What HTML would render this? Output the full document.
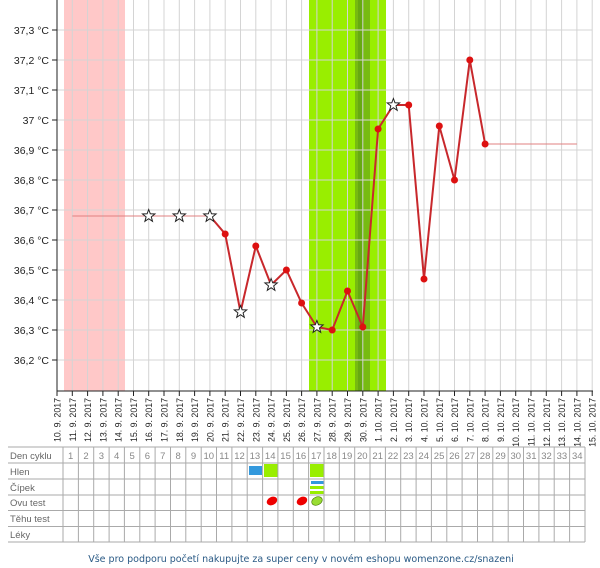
<!DOCTYPE html>
<html><head><meta charset="utf-8"><style>
html,body{margin:0;padding:0;background:#fff;}
svg{display:block;font-family:"Liberation Sans",Arial,sans-serif;}
</style></head><body>
<svg width="600" height="568" viewBox="0 0 600 568" xmlns="http://www.w3.org/2000/svg">
<defs>
<polygon id="st" points="0,-6.5 1.6,-2.2 6.2,-2 2.6,0.9 3.8,5.3 0,2.7 -3.8,5.3 -2.6,0.9 -6.2,-2 -1.6,-2.2" fill="#fff" stroke="#222" stroke-width="1"/>
</defs>
<rect x="64" y="0" width="61" height="391" fill="#ffc8c8"/>
<rect x="309" y="0" width="77" height="391" fill="#99ee00"/>
<rect x="355" y="0" width="15" height="391" fill="#77bb11"/>
<rect x="358" y="0" width="5" height="391" fill="#66aa11"/>
<g stroke="#d4d4d4" stroke-width="1">
<line x1="72.3" y1="0" x2="72.3" y2="391"/><line x1="87.6" y1="0" x2="87.6" y2="391"/><line x1="102.9" y1="0" x2="102.9" y2="391"/><line x1="118.2" y1="0" x2="118.2" y2="391"/><line x1="133.5" y1="0" x2="133.5" y2="391"/><line x1="148.7" y1="0" x2="148.7" y2="391"/><line x1="164" y1="0" x2="164" y2="391"/><line x1="179.3" y1="0" x2="179.3" y2="391"/><line x1="194.6" y1="0" x2="194.6" y2="391"/><line x1="209.9" y1="0" x2="209.9" y2="391"/><line x1="225.2" y1="0" x2="225.2" y2="391"/><line x1="240.5" y1="0" x2="240.5" y2="391"/><line x1="255.8" y1="0" x2="255.8" y2="391"/><line x1="271.1" y1="0" x2="271.1" y2="391"/><line x1="286.4" y1="0" x2="286.4" y2="391"/><line x1="301.6" y1="0" x2="301.6" y2="391"/><line x1="316.9" y1="0" x2="316.9" y2="391"/><line x1="332.2" y1="0" x2="332.2" y2="391"/><line x1="347.5" y1="0" x2="347.5" y2="391"/><line x1="362.8" y1="0" x2="362.8" y2="391"/><line x1="378.1" y1="0" x2="378.1" y2="391"/><line x1="393.4" y1="0" x2="393.4" y2="391"/><line x1="408.7" y1="0" x2="408.7" y2="391"/><line x1="424" y1="0" x2="424" y2="391"/><line x1="439.3" y1="0" x2="439.3" y2="391"/><line x1="454.5" y1="0" x2="454.5" y2="391"/><line x1="469.8" y1="0" x2="469.8" y2="391"/><line x1="485.1" y1="0" x2="485.1" y2="391"/><line x1="500.4" y1="0" x2="500.4" y2="391"/><line x1="515.7" y1="0" x2="515.7" y2="391"/><line x1="531" y1="0" x2="531" y2="391"/><line x1="546.3" y1="0" x2="546.3" y2="391"/><line x1="561.6" y1="0" x2="561.6" y2="391"/><line x1="576.9" y1="0" x2="576.9" y2="391"/><line x1="592.2" y1="0" x2="592.2" y2="391"/>
<line x1="57" y1="30" x2="592" y2="30"/><line x1="57" y1="60" x2="592" y2="60"/><line x1="57" y1="90" x2="592" y2="90"/><line x1="57" y1="120" x2="592" y2="120"/><line x1="57" y1="150" x2="592" y2="150"/><line x1="57" y1="180" x2="592" y2="180"/><line x1="57" y1="210" x2="592" y2="210"/><line x1="57" y1="240" x2="592" y2="240"/><line x1="57" y1="270" x2="592" y2="270"/><line x1="57" y1="300" x2="592" y2="300"/><line x1="57" y1="330" x2="592" y2="330"/><line x1="57" y1="360" x2="592" y2="360"/>
</g>
<g stroke="#222" stroke-width="1">
<line x1="57" y1="0" x2="57" y2="391"/><line x1="57" y1="391" x2="593" y2="391"/>
<line x1="52" y1="30" x2="57" y2="30"/><line x1="52" y1="60" x2="57" y2="60"/><line x1="52" y1="90" x2="57" y2="90"/><line x1="52" y1="120" x2="57" y2="120"/><line x1="52" y1="150" x2="57" y2="150"/><line x1="52" y1="180" x2="57" y2="180"/><line x1="52" y1="210" x2="57" y2="210"/><line x1="52" y1="240" x2="57" y2="240"/><line x1="52" y1="270" x2="57" y2="270"/><line x1="52" y1="300" x2="57" y2="300"/><line x1="52" y1="330" x2="57" y2="330"/><line x1="52" y1="360" x2="57" y2="360"/>
</g>
<g stroke="#222" stroke-width="1">
<line x1="57" y1="391" x2="57" y2="396"/><line x1="72.3" y1="391" x2="72.3" y2="396"/><line x1="87.6" y1="391" x2="87.6" y2="396"/><line x1="102.9" y1="391" x2="102.9" y2="396"/><line x1="118.2" y1="391" x2="118.2" y2="396"/><line x1="133.5" y1="391" x2="133.5" y2="396"/><line x1="148.7" y1="391" x2="148.7" y2="396"/><line x1="164" y1="391" x2="164" y2="396"/><line x1="179.3" y1="391" x2="179.3" y2="396"/><line x1="194.6" y1="391" x2="194.6" y2="396"/><line x1="209.9" y1="391" x2="209.9" y2="396"/><line x1="225.2" y1="391" x2="225.2" y2="396"/><line x1="240.5" y1="391" x2="240.5" y2="396"/><line x1="255.8" y1="391" x2="255.8" y2="396"/><line x1="271.1" y1="391" x2="271.1" y2="396"/><line x1="286.4" y1="391" x2="286.4" y2="396"/><line x1="301.6" y1="391" x2="301.6" y2="396"/><line x1="316.9" y1="391" x2="316.9" y2="396"/><line x1="332.2" y1="391" x2="332.2" y2="396"/><line x1="347.5" y1="391" x2="347.5" y2="396"/><line x1="362.8" y1="391" x2="362.8" y2="396"/><line x1="378.1" y1="391" x2="378.1" y2="396"/><line x1="393.4" y1="391" x2="393.4" y2="396"/><line x1="408.7" y1="391" x2="408.7" y2="396"/><line x1="424" y1="391" x2="424" y2="396"/><line x1="439.3" y1="391" x2="439.3" y2="396"/><line x1="454.5" y1="391" x2="454.5" y2="396"/><line x1="469.8" y1="391" x2="469.8" y2="396"/><line x1="485.1" y1="391" x2="485.1" y2="396"/><line x1="500.4" y1="391" x2="500.4" y2="396"/><line x1="515.7" y1="391" x2="515.7" y2="396"/><line x1="531" y1="391" x2="531" y2="396"/><line x1="546.3" y1="391" x2="546.3" y2="396"/><line x1="561.6" y1="391" x2="561.6" y2="396"/><line x1="576.9" y1="391" x2="576.9" y2="396"/><line x1="592.2" y1="391" x2="592.2" y2="396"/>
</g>
<g font-size="10.5" fill="#222" text-anchor="end">
<text x="49" y="34">37,3 °C</text><text x="49" y="64">37,2 °C</text><text x="49" y="94">37,1 °C</text><text x="49" y="124">37 °C</text><text x="49" y="154">36,9 °C</text><text x="49" y="184">36,8 °C</text><text x="49" y="214">36,7 °C</text><text x="49" y="244">36,6 °C</text><text x="49" y="274">36,5 °C</text><text x="49" y="304">36,4 °C</text><text x="49" y="334">36,3 °C</text><text x="49" y="364">36,2 °C</text>
</g>
<g font-size="8.8" fill="#222" text-anchor="end">
<text transform="translate(60.5,398) rotate(-90)">10. 9. 2017</text>
<text transform="translate(75.8,398) rotate(-90)">11. 9. 2017</text>
<text transform="translate(91.1,398) rotate(-90)">12. 9. 2017</text>
<text transform="translate(106.4,398) rotate(-90)">13. 9. 2017</text>
<text transform="translate(121.7,398) rotate(-90)">14. 9. 2017</text>
<text transform="translate(137,398) rotate(-90)">15. 9. 2017</text>
<text transform="translate(152.2,398) rotate(-90)">16. 9. 2017</text>
<text transform="translate(167.5,398) rotate(-90)">17. 9. 2017</text>
<text transform="translate(182.8,398) rotate(-90)">18. 9. 2017</text>
<text transform="translate(198.1,398) rotate(-90)">19. 9. 2017</text>
<text transform="translate(213.4,398) rotate(-90)">20. 9. 2017</text>
<text transform="translate(228.7,398) rotate(-90)">21. 9. 2017</text>
<text transform="translate(244,398) rotate(-90)">22. 9. 2017</text>
<text transform="translate(259.3,398) rotate(-90)">23. 9. 2017</text>
<text transform="translate(274.6,398) rotate(-90)">24. 9. 2017</text>
<text transform="translate(289.9,398) rotate(-90)">25. 9. 2017</text>
<text transform="translate(305.1,398) rotate(-90)">26. 9. 2017</text>
<text transform="translate(320.4,398) rotate(-90)">27. 9. 2017</text>
<text transform="translate(335.7,398) rotate(-90)">28. 9. 2017</text>
<text transform="translate(351,398) rotate(-90)">29. 9. 2017</text>
<text transform="translate(366.3,398) rotate(-90)">30. 9. 2017</text>
<text transform="translate(381.6,398) rotate(-90)">1. 10. 2017</text>
<text transform="translate(396.9,398) rotate(-90)">2. 10. 2017</text>
<text transform="translate(412.2,398) rotate(-90)">3. 10. 2017</text>
<text transform="translate(427.5,398) rotate(-90)">4. 10. 2017</text>
<text transform="translate(442.8,398) rotate(-90)">5. 10. 2017</text>
<text transform="translate(458,398) rotate(-90)">6. 10. 2017</text>
<text transform="translate(473.3,398) rotate(-90)">7. 10. 2017</text>
<text transform="translate(488.6,398) rotate(-90)">8. 10. 2017</text>
<text transform="translate(503.9,398) rotate(-90)">9. 10. 2017</text>
<text transform="translate(519.2,398) rotate(-90)">10. 10. 2017</text>
<text transform="translate(534.5,398) rotate(-90)">11. 10. 2017</text>
<text transform="translate(549.8,398) rotate(-90)">12. 10. 2017</text>
<text transform="translate(565.1,398) rotate(-90)">13. 10. 2017</text>
<text transform="translate(580.4,398) rotate(-90)">14. 10. 2017</text>
<text transform="translate(595.7,398) rotate(-90)">15. 10. 2017</text>
</g>
<line x1="72.3" y1="216" x2="209.9" y2="216" stroke="#e08080" stroke-width="1"/>
<line x1="485.1" y1="144" x2="576.9" y2="144" stroke="#e08080" stroke-width="1"/>
<polyline fill="none" stroke="#c8282c" stroke-width="2" points="209.9,216 225.2,234 240.5,312 255.8,246 271.1,285 286.4,270 301.6,303 316.9,327 332.2,330 347.5,291 362.8,327 378.1,129 393.4,105 408.7,105 424,279 439.3,126 454.5,180 469.8,60 485.1,144"/>
<g fill="#dd1111">
<circle cx="225.2" cy="234" r="3.5"/><circle cx="255.8" cy="246" r="3.5"/><circle cx="286.4" cy="270" r="3.5"/><circle cx="301.6" cy="303" r="3.5"/><circle cx="332.2" cy="330" r="3.5"/><circle cx="347.5" cy="291" r="3.5"/><circle cx="362.8" cy="327" r="3.5"/><circle cx="378.1" cy="129" r="3.5"/><circle cx="408.7" cy="105" r="3.5"/><circle cx="424" cy="279" r="3.5"/><circle cx="439.3" cy="126" r="3.5"/><circle cx="454.5" cy="180" r="3.5"/><circle cx="469.8" cy="60" r="3.5"/><circle cx="485.1" cy="144" r="3.5"/>
</g>
<use href="#st" x="148.7" y="216"/><use href="#st" x="179.3" y="216"/><use href="#st" x="209.9" y="216"/><use href="#st" x="240.5" y="312"/><use href="#st" x="271.1" y="285"/><use href="#st" x="316.9" y="327"/><use href="#st" x="393.4" y="105"/>
<g fill="#3399dd"><rect x="249" y="466" width="13" height="9"/><rect x="311" y="481" width="13" height="3"/></g>
<g fill="#99ee00"><rect x="264" y="464" width="14" height="13"/><rect x="310" y="464" width="14" height="13"/><rect x="310" y="486" width="14" height="3"/><rect x="310" y="491" width="14" height="3"/></g>
<ellipse cx="272" cy="501" rx="5.5" ry="4" fill="#e00" transform="rotate(-25 272 501)"/>
<ellipse cx="302" cy="501" rx="5.5" ry="4" fill="#e00" transform="rotate(-25 302 501)"/>
<ellipse cx="317" cy="501" rx="5.5" ry="4" fill="#99dd33" stroke="#447700" stroke-width="0.6" transform="rotate(-25 317 501)"/>
<g stroke="#aaa" stroke-width="1">
<line x1="8" y1="447" x2="585" y2="447"/><line x1="8" y1="463" x2="585" y2="463"/><line x1="8" y1="479" x2="585" y2="479"/><line x1="8" y1="495" x2="585" y2="495"/><line x1="8" y1="510.5" x2="585" y2="510.5"/><line x1="8" y1="526.5" x2="585" y2="526.5"/><line x1="8" y1="542" x2="585" y2="542"/>
<line x1="63" y1="447" x2="63" y2="542"/><line x1="78.4" y1="447" x2="78.4" y2="542"/><line x1="93.7" y1="447" x2="93.7" y2="542"/><line x1="109.1" y1="447" x2="109.1" y2="542"/><line x1="124.4" y1="447" x2="124.4" y2="542"/><line x1="139.8" y1="447" x2="139.8" y2="542"/><line x1="155.1" y1="447" x2="155.1" y2="542"/><line x1="170.5" y1="447" x2="170.5" y2="542"/><line x1="185.8" y1="447" x2="185.8" y2="542"/><line x1="201.2" y1="447" x2="201.2" y2="542"/><line x1="216.5" y1="447" x2="216.5" y2="542"/><line x1="231.9" y1="447" x2="231.9" y2="542"/><line x1="247.2" y1="447" x2="247.2" y2="542"/><line x1="262.6" y1="447" x2="262.6" y2="542"/><line x1="277.9" y1="447" x2="277.9" y2="542"/><line x1="293.3" y1="447" x2="293.3" y2="542"/><line x1="308.6" y1="447" x2="308.6" y2="542"/><line x1="324" y1="447" x2="324" y2="542"/><line x1="339.3" y1="447" x2="339.3" y2="542"/><line x1="354.7" y1="447" x2="354.7" y2="542"/><line x1="370" y1="447" x2="370" y2="542"/><line x1="385.4" y1="447" x2="385.4" y2="542"/><line x1="400.7" y1="447" x2="400.7" y2="542"/><line x1="416.1" y1="447" x2="416.1" y2="542"/><line x1="431.4" y1="447" x2="431.4" y2="542"/><line x1="446.8" y1="447" x2="446.8" y2="542"/><line x1="462.1" y1="447" x2="462.1" y2="542"/><line x1="477.5" y1="447" x2="477.5" y2="542"/><line x1="492.8" y1="447" x2="492.8" y2="542"/><line x1="508.2" y1="447" x2="508.2" y2="542"/><line x1="523.5" y1="447" x2="523.5" y2="542"/><line x1="538.9" y1="447" x2="538.9" y2="542"/><line x1="554.2" y1="447" x2="554.2" y2="542"/><line x1="569.6" y1="447" x2="569.6" y2="542"/><line x1="585" y1="447" x2="585" y2="542"/>
</g>
<g font-size="9.5" fill="#666">
<text x="10" y="459">Den cyklu</text><text x="10" y="475">Hlen</text><text x="10" y="491">Čípek</text><text x="10" y="506">Ovu test</text><text x="10" y="522">Těhu test</text><text x="10" y="538">Léky</text>
</g>
<g font-size="9.5" fill="#888" text-anchor="middle">
<text x="70.7" y="459">1</text><text x="86" y="459">2</text><text x="101.4" y="459">3</text><text x="116.7" y="459">4</text><text x="132.1" y="459">5</text><text x="147.4" y="459">6</text><text x="162.8" y="459">7</text><text x="178.1" y="459">8</text><text x="193.5" y="459">9</text><text x="208.8" y="459">10</text><text x="224.2" y="459">11</text><text x="239.5" y="459">12</text><text x="254.9" y="459">13</text><text x="270.2" y="459">14</text><text x="285.6" y="459">15</text><text x="300.9" y="459">16</text><text x="316.3" y="459">17</text><text x="331.6" y="459">18</text><text x="347" y="459">19</text><text x="362.3" y="459">20</text><text x="377.7" y="459">21</text><text x="393" y="459">22</text><text x="408.4" y="459">23</text><text x="423.7" y="459">24</text><text x="439.1" y="459">25</text><text x="454.4" y="459">26</text><text x="469.8" y="459">27</text><text x="485.1" y="459">28</text><text x="500.5" y="459">29</text><text x="515.8" y="459">30</text><text x="531.2" y="459">31</text><text x="546.5" y="459">32</text><text x="561.9" y="459">33</text><text x="577.3" y="459">34</text>
</g>
<text x="301" y="562" fill="#2a5a85" text-anchor="middle" font-family="'DejaVu Sans','Liberation Sans',sans-serif" style="font-size:9.5px">Vše pro podporu početí nakupujte za super ceny v novém eshopu womenzone.cz/snazeni</text>
</svg>
</body></html>
